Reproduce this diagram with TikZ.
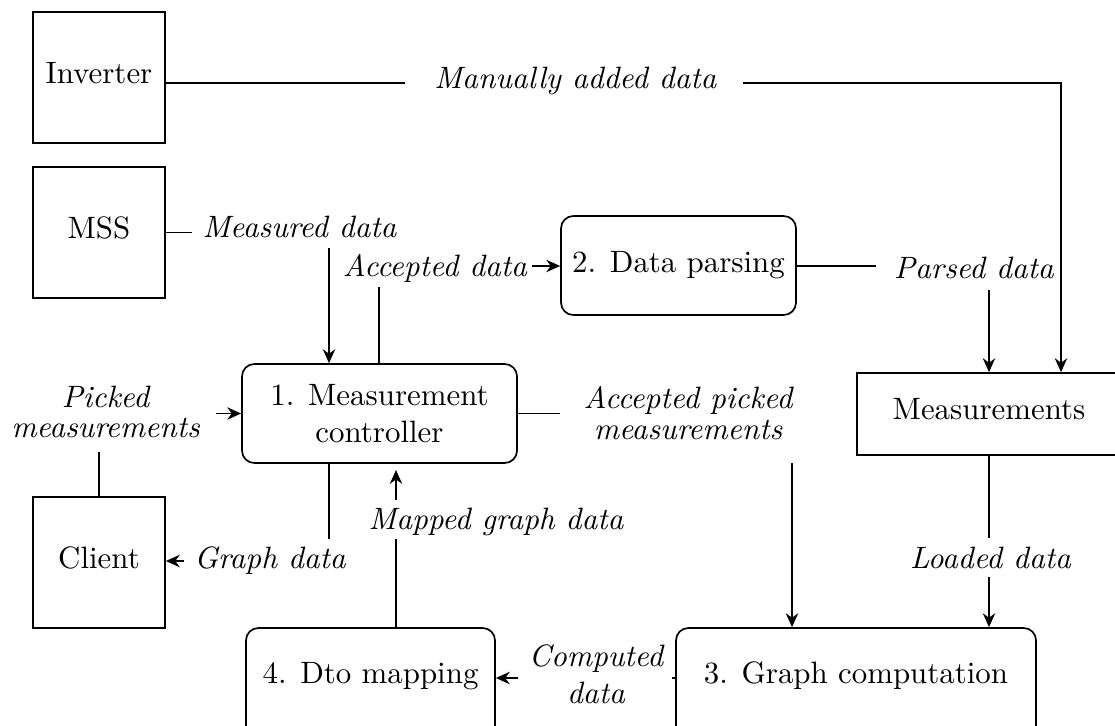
\documentclass[tikz,border=0pt]{standalone}
\usetikzlibrary{arrows.meta}
\newcommand\pxu{0.32362}
\begin{document}
\begin{tikzpicture}[x=0.32362pt, y=-0.32362pt, line width=0.55pt,
  sz/.style 2 args={minimum width=#1*\pxu pt, minimum height=#2*\pxu pt},
  ext/.style={draw, rectangle, inner sep=0pt, text height=7pt, text depth=3.4pt},
  proc/.style={draw, rectangle, rounded corners=4pt, inner sep=0pt, align=center},
  lowproc/.style={proc, text height=5pt, text depth=5pt},
  lbl/.style={inner sep=0pt, font=\itshape, align=center},
  arr/.style={-{Stealth[length=4.5pt, width=4pt]}}]
\path[use as bounding box, clip] (0,0) rectangle (1115,725);

% boxes
\node[ext, sz={132}{131}] (inv) at (99,77.5) {Inverter};
\node[ext, sz={132}{131}] (mss) at (99,232.5) {MSS};
\node[ext, sz={132}{131}] (client) at (99,562.5) {Client};
\node[proc, sz={275}{99}] (mc) at (379.5,413.5) {1. Measurement\\controller};
\node[proc, sz={235}{99}] (dp) at (678.5,265.5) {2. Data parsing};
\node[ext, sz={264}{82}] (meas) at (989,414) {Measurements};
\node[lowproc, sz={360}{110}] (gc) at (856,683) {3. Graph computation};
\node[lowproc, sz={249}{110}] (dto) at (370.5,683) {4. Dto mapping};

% labels
\node[lbl, anchor=base] (lman) at (575.5,89) {Manually added data};
\node[lbl, anchor=base] (lmeas) at (299.5,237.5) {Measured data};
\node[lbl, anchor=base] (lacc) at (435,276) {Accepted data};
\node[lbl, anchor=base] (lpars) at (974,278) {Parsed data};
\node[lbl, anchor=north] (lpick) at (105.5,385.2) {Picked\\[-2.3pt]measurements};
\node[lbl, anchor=north] (lapick) at (688,385.2) {Accepted picked\\[-1.8pt]measurements};
\node[lbl, anchor=base] (lgraph) at (270,568) {Graph data};
\node[lbl, anchor=base] (lmapped) at (496,529) {Mapped graph data};
\node[lbl, anchor=base] (lload) at (990.5,568) {Loaded data};
\node[lbl, anchor=north] (lcomp) at (596,643.5) {Computed\\data};

% connector ends and bends
\coordinate (m1) at (405,83);
\coordinate (m2) at (743,83);
\coordinate (mc1) at (1061,83);
\coordinate (d1) at (192,232.5);
\coordinate (d2) at (329,248);
\coordinate (e1) at (379,287);
\coordinate (f1) at (532,266);
\coordinate (g1) at (876,266);
\coordinate (h1) at (989,290);
\coordinate (i1) at (216,413.5);
\coordinate (j1) at (99,452);
\coordinate (k1) at (560,413.5);
\coordinate (l1) at (792,463);
\coordinate (lo1) at (989,538);
\coordinate (lo2) at (989,577);
\coordinate (o1) at (672,678);
\coordinate (p1) at (518,678);
\coordinate (q1) at (396,539);
\coordinate (r1) at (396,500);
\coordinate (r2) at (396,470);
\coordinate (s1) at (329,539);
\coordinate (t1) at (184,561);

% connectors
\draw (inv.east |- m1) -- (m1);
\draw[arr] (m2) -- (mc1) -- (mc1 |- meas.north);
\draw (mss.east) -- (d1);
\draw[arr] (d2) -- (d2 |- mc.north);
\draw (e1 |- mc.north) -- (e1);
\draw[arr] (f1) -- (f1 -| dp.west);
\draw (dp.east |- g1) -- (g1);
\draw[arr] (h1) -- (h1 |- meas.north);
\draw[arr] (i1) -- (i1 -| mc.west);
\draw (client.north) -- (j1);
\draw (mc.east) -- (k1);
\draw[arr] (l1) -- (l1 |- gc.north);
\draw (meas.south -| lo1) -- (lo1);
\draw[arr] (lo2) -- (lo2 |- gc.north);
\draw (o1) -- (o1 -| gc.west);
\draw[arr] (p1) -- (p1 -| dto.east);
\draw (q1 |- dto.north) -- (q1);
\draw[arr] (r1) -- (r2);
\draw (mc.south -| s1) -- (s1);
\draw[arr] (t1) -- (t1 -| client.east);
\end{tikzpicture}
\end{document}
